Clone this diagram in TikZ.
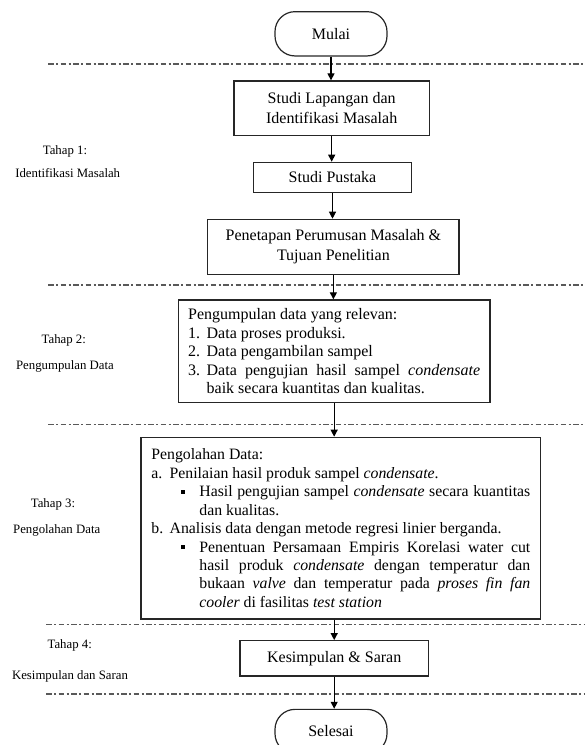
\documentclass[tikz,border=0pt]{standalone}
\usepackage{fontspec}
\setmainfont{Liberation Serif}
\usetikzlibrary{arrows.meta}
\newcommand{\numitem}[2][18.5pt]{\par\hangindent=#1\hangafter=1\noindent\makebox[#1][l]{#2}}
\newcommand{\bulitem}{\par\hangindent=48pt\hangafter=1\noindent\hspace*{29.7pt}\makebox[18.3pt][l]{\raisebox{2.8pt}{\rule{3.8pt}{3.8pt}}}}
\begin{document}
\begin{tikzpicture}[x=1pt,y=-1pt,
  box/.style={draw=black!85, line width=1.2pt, align=center, inner sep=0pt, font=\fontsize{16}{20}\selectfont},
  term/.style={box, rounded corners=20pt},
  arr/.style={draw=black, line width=1.2pt, -{Triangle[length=7pt,width=7pt]}},
  sepline/.style={draw=black!65, line width=1.3pt, dash pattern=on 5.5pt off 2.5pt on 2pt off 2.5pt},
  lab/.style={font=\fontsize{12.8}{15}\selectfont, inner sep=0pt}
]
\useasboundingbox (0,0) rectangle (585,745);
\clip (0,0) rectangle (585,745);

% separator lines
\draw[sepline] (48,64) -- (585,64);
\draw[sepline] (48,285) -- (585,285);
\draw[sepline] (48,424.5) -- (585,424.5);
\draw[sepline] (46,624.5) -- (585,624.5);
\draw[sepline] (46,694) -- (585,694);

% stage labels
\node[lab] (t1a) at (65,151.7) {Tahap 1:};
\node[lab] (t1b) at (67.7,173.3) {Identifikasi Masalah};
\node[lab] (t2a) at (63.8,340.7) {Tahap 2:};
\node[lab] (t2b) at (65,366.7) {Pengumpulan Data};
\node[lab] (t3a) at (53,504.3) {Tahap 3:};
\node[lab] (t3b) at (56.7,530) {Pengolahan Data};
\node[lab] (t4a) at (69.7,645) {Tahap 4:};
\node[lab] (t4b) at (70,676) {Kesimpulan dan Saran};

% flow nodes
\node[term, minimum width=112pt, minimum height=44.3pt] (start) at (331,33.8) {Mulai};
\node[box, minimum width=195.3pt, minimum height=54.7pt] (b1) at (331.7,108.3) {Studi Lapangan dan\\Identifikasi Masalah};
\node[box, minimum width=158.4pt, minimum height=30pt] (b2) at (332.5,177.3) {Studi Pustaka};
\node[box, minimum width=251.3pt, minimum height=55pt] (b3) at (333.4,246.8) {Penetapan Perumusan Masalah \&\\Tujuan Penelitian};
\node[box, minimum width=311.7pt, minimum height=102.7pt, inner xsep=9.85pt] (b4) at (334.15,351.3) {\begin{minipage}{292pt}\fontsize{16}{18.6}\selectfont
Pengumpulan data yang relevan:
\numitem{1.}Data proses produksi.
\numitem{2.}Data pengambilan sampel
\numitem{3.}Data pengujian hasil sampel \textit{condensate} \linebreak baik secara kuantitas dan kualitas.
\end{minipage}};
\node[box, minimum width=399.7pt, minimum height=181.7pt, inner xsep=10.35pt] (b5) at (340.85,528.15) {\begin{minipage}{379pt}\fontsize{15.8}{18.45}\selectfont
Pengolahan Data:
\numitem[18.3pt]{a.}Penilaian hasil produk sampel \textit{condensate}.
\bulitem Hasil pengujian sampel \textit{condensate} secara kuantitas \linebreak dan kualitas.
\numitem[18.3pt]{b.}Analisis data dengan metode regresi linier berganda.
\bulitem Penentuan Persamaan Empiris Korelasi water cut \linebreak hasil produk \textit{condensate} dengan temperatur dan \linebreak bukaan \textit{valve} dan temperatur pada \textit{proses fin fan} \linebreak \textit{cooler} di fasilitas \textit{test station}
\end{minipage}};
\node[box, minimum width=188.3pt, minimum height=35.3pt] (b6) at (334.2,658.35) {Kesimpulan \& Saran};
\node[term, minimum width=112pt, minimum height=44.3pt] (end) at (331,731.5) {Selesai};

% connectors
\draw[arr] (start.south) -- (start.south |- b1.north);
\draw[arr] (b1.south) -- (b1.south |- b2.north);
\draw[arr] (b2.south) -- (b2.south |- b3.north);
\draw[arr] (b3.south) -- (b3.south |- b4.north);
\draw[arr] (b4.south) -- (b4.south |- b5.north);
\draw[arr] (b6.north |- b5.south) -- (b6.north);
\draw[arr] (b6.south) -- (b6.south |- end.north);
\end{tikzpicture}
\end{document}
